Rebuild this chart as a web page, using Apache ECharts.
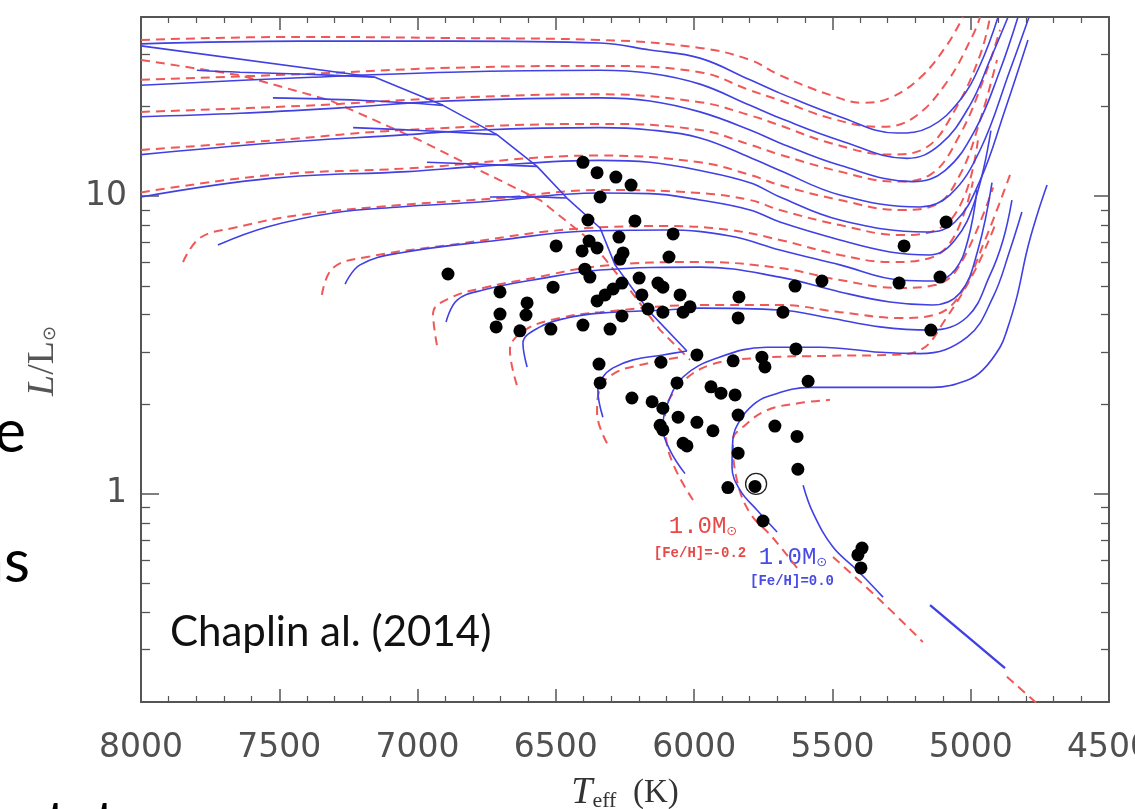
<!DOCTYPE html>
<html><head><meta charset="utf-8">
<script src="https://cdn.jsdelivr.net/npm/echarts@6/dist/echarts.min.js"></script>
<style>html,body{margin:0;padding:0;background:#fff}#c{width:1135px;height:809px}</style>
</head><body><div id="c"></div>
<script>
// ---------- axis ----------
const xTickLabels = [8000, 7500, 7000, 6500, 6000, 5500, 5000, 4500];
const yMajorTicks = [1, 10];
const yMinorTicks = [0.3,0.4,0.5,0.6,0.7,0.8,0.9,2,3,4,5,6,7,8,9,20,30];

// ---------- stars [Teff, L/Lsun] ----------
const stars = [[6402,13.0],[6351,12.0],[6283,11.6],[6228,10.9],[6340,9.94],[6384,8.32],[6214,8.26],[6076,7.47],[6272,7.29],[6499,6.81],[6380,7.07],[6405,6.55],[6351,6.70],[6257,6.45],[6268,6.15],[6091,6.25],[6890,5.48],[6395,5.69],[6377,5.35],[6199,5.31],[6261,5.11],[6131,5.11],[6113,4.95],[6510,4.95],[6702,4.77],[6293,4.88],[5635,4.99],[5838,4.59],[6051,4.66],[6189,4.66],[6351,4.45],[6322,4.66],[6604,4.38],[6702,4.02],[6608,3.99],[6716,3.64],[6630,3.53],[6518,3.58],[6402,3.69],[6304,3.58],[6261,3.96],[6167,4.18],[6113,4.08],[6040,4.08],[6015,4.25],[5841,3.90],[5679,4.08],[5632,3.07],[5990,2.93],[6120,2.77],[6344,2.73],[6340,2.36],[5859,2.80],[5755,2.88],[5744,2.67],[6062,2.36],[6225,2.10],[6152,2.04],[6113,1.94],[5939,2.29],[5903,2.18],[5852,2.15],[5841,1.84],[6058,1.81],[5990,1.74],[5932,1.63],[6123,1.70],[6113,1.64],[6040,1.48],[6026,1.45],[5841,1.37],[5708,1.69],[5628,1.56],[5625,1.21],[5878,1.05],[5780,1.06],[5751,0.811],[5393,0.658],[5408,0.624],[5397,0.564],[5538,5.19],[5259,5.11],[5111,5.35],[5089,8.19],[5241,6.81],[5144,3.55],[5588,2.39]];
const sun = [[5776,1.08]];

// ---------- solar-metallicity tracks (blue, solid) ----------
const B08 = [[4876,0.260],[5147,0.423]];
const B09 = [[5317,0.45],[5411,0.555],[5498,0.663],[5570,0.863],[5606,1.07]];
const B10 = [[5700,0.745],[5773,0.883],[5834,1.03],[5863,1.23],[5860,1.52],[5834,1.77],[5787,1.99],[5737,2.12],[5581,2.28],[5375,2.28],[5136,2.28],[5013,2.41],[4956,2.61],[4894,3.11],[4869,3.55],[4833,4.59],[4796,6.6],[4760,8.65],[4724,10.9]];
const B11 = [[6033,1.17],[6087,1.40],[6113,1.68],[6098,1.99],[6040,2.47],[5917,2.86],[5737,3.11],[5545,3.11],[5328,2.99],[5183,2.96],[5013,3.36],[4919,4.59],[4858,6.6],[4815,8.85]];
const BH1 = [[6330,1.81],[6348,2.23],[6330,2.47],[6293,2.65],[6221,2.82],[6113,2.93],[6026,3.02]];
const B12 = [[6604,2.67],[6619,3.21],[6557,3.64],[6460,3.9],[6340,4.05],[6098,4.15],[5979,4.21],[5690,4.15],[5509,3.9],[5328,3.64],[5147,3.55],[5013,3.93],[4930,5.44],[4883,7.13],[4851,9.71]];
const B13 = [[6897,3.78],[6857,4.48],[6763,4.84],[6583,5.23],[6340,5.65],[5979,5.78],[5690,5.35],[5473,4.77],[5292,4.41],[5140,4.31],[5039,4.73],[4974,6.6],[4923,11.1]];
const B14 = [[7262,5.07],[7208,5.88],[7064,6.45],[6702,7.13],[6387,7.64],[6098,7.7],[5870,7.35],[5690,6.6],[5473,5.88],[5256,5.23],[5129,5.19],[5057,5.65],[5010,7.13],[4977,10.5]];
const B15 = [[7722,6.86],[7544,7.88],[7306,8.78],[7064,9.2],[6774,9.56],[6340,10.25],[6160,10.2],[5979,9.71],[5798,8.99],[5690,8.19],[5473,7.13],[5292,6.5],[5147,6.35],[5057,7.13],[4984,9.71],[4927,16.6]];
const B16 = [[8000,9.94],[7523,11.5],[7038,12.1],[6774,12.6],[6340,13.2],[6160,13.0],[5979,12.2],[5798,11.1],[5690,9.94],[5473,8.32],[5158,7.58],[5057,8.19],[4966,11.3],[4876,19.5],[4793,33.5]];
const B17 = [[8000,13.8],[7523,15.1],[7038,16.1],[6774,16.7],[6340,17.0],[6160,16.7],[5979,15.7],[5798,13.5],[5690,12.2],[5473,10.1],[5183,9.2],[5075,10.1],[4966,14.3],[4858,26.5],[4789,40]];
const B18 = [[8000,18.5],[7642,19.0],[7280,19.8],[6883,20.9],[6340,21.4],[6160,20.9],[5979,19.2],[5798,16.7],[5690,15.1],[5473,12.7],[5209,11.2],[5093,12.2],[4984,16.7],[4894,26.5],[4829,40]];
const B19 = [[8000,23.6],[7425,25.0],[6883,26.1],[6340,26.5],[6160,25.9],[5979,23.8],[5798,20.2],[5690,18.3],[5473,15.4],[5230,13.4],[5111,14.9],[5003,20.2],[4930,28.7],[4865,40]];
const B20 = [[8000,32.5],[7425,33.2],[6883,33.2],[6340,32.7],[6160,31.0],[5979,29.1],[5798,24.6],[5690,22.2],[5473,18.5],[5267,16.3],[5147,17.1],[5039,21.0],[4966,27.6],[4901,40]];
const BDiag = [[8000,32.0],[7154,25.1],[6908,20.2],[6713,16.1],[6568,12.6],[6460,9.86],[6340,7.82],[6286,5.88],[6214,4.77],[6160,4.08],[6026,3.02]];
const BHk2 = [[7798,26.5],[7642,26.1],[7400,25.7],[7154,25.1]];
const BHk3 = [[7523,21.4],[7208,21.0],[6908,20.2]];
const BHk4 = [[7233,17.0],[6973,16.6],[6713,16.1]];
const BHk5 = [[6966,13.0],[6568,12.6]];
const BHk6 = [[6738,9.94],[6600,9.95],[6460,9.86]];

// ---------- [Fe/H] = -0.2 tracks (red, dashed) ----------
const R08 = [[4869,0.243],[4713,0.181]];
const R09 = [[5498,0.614],[5328,0.44],[5173,0.318]];
const R10 = [[5628,0.564],[5718,0.717],[5798,0.863],[5845,1.11],[5860,1.52],[5823,1.68],[5737,1.91],[5617,2.02],[5509,2.07]];
const R11 = [[6004,0.954],[6098,1.46],[6105,1.84],[6051,2.32],[5943,2.71],[5773,2.86],[5509,2.91],[5292,2.93],[5183,3.04],[5093,3.84],[4984,5.65],[4912,8.0]];
const RH1 = [[6315,1.48],[6351,1.87],[6340,2.27],[6286,2.55],[6196,2.71],[6051,2.88]];
const R12 = [[6641,2.32],[6666,3.04],[6612,3.55],[6485,3.9],[6340,4.08],[5979,4.31],[5690,4.31],[5473,4.08],[5256,3.9],[5129,4.0],[5039,4.66],[4948,7.13],[4858,11.8]];
const R13 = [[6930,3.16],[6944,4.05],[6883,4.55],[6763,4.92],[6583,5.31],[6340,5.83],[5979,6.01],[5690,5.74],[5473,5.23],[5256,4.92],[5129,5.03],[5039,5.88],[4919,10.7]];
const R14 = [[7346,4.66],[7306,5.74],[7183,6.25],[6883,6.86],[6387,7.82],[6098,7.94],[5870,7.7],[5690,7.13],[5473,6.35],[5292,6.01],[5147,6.2],[5057,7.41],[4992,11.2]];
const R15 = [[7848,6.01],[7787,7.24],[7667,7.82],[7425,8.65],[7064,9.34],[6702,9.86],[6340,10.5],[5979,10.25],[5798,9.71],[5690,8.99],[5473,8.0],[5256,7.41],[5111,7.82],[5021,10.1],[4974,15.4]];
const R16 = [[8000,10.3],[7523,11.8],[7038,12.4],[6340,13.7],[5979,13.0],[5798,11.8],[5690,10.9],[5473,9.71],[5256,8.99],[5129,9.34],[5039,11.8],[4966,18.0],[4905,28.7]];
const R17 = [[8000,14.3],[7523,15.4],[7038,16.7],[6340,17.5],[5979,16.7],[5798,14.9],[5690,13.8],[5473,12.1],[5274,11.2],[5147,11.8],[5039,16.1],[4948,25.5],[4894,36.2]];
const R18 = [[8000,19.2],[7425,20.1],[6883,21.4],[6340,22.0],[5979,20.7],[5798,18.7],[5690,17.3],[5509,15.1],[5292,13.8],[5165,14.5],[5057,19.5],[4966,29.8],[4930,40]];
const R19 = [[8000,24.6],[7425,25.7],[6883,27.0],[6340,27.4],[5979,26.1],[5798,22.7],[5690,21.0],[5509,18.3],[5328,17.1],[5209,18.3],[5086,24.2],[4992,34.8],[4966,40]];
const R20 = [[8000,33.5],[7425,34.3],[6883,34.0],[6340,33.5],[5979,31.5],[5798,28.7],[5690,25.5],[5509,21.9],[5389,20.6],[5292,21.4],[5183,25.0],[5086,32.2],[5028,40]];
const RDiag = [[8000,28.7],[7642,25.5],[7317,21.0],[6991,15.4],[6774,12.2],[6557,9.71],[6377,7.13],[6232,4.84],[6123,3.55],[6015,2.82]];

// ---------- build ----------
const BLUE = '#4040e4', RED = '#f05858';
const blueSmooth = [B08,B09,B10,B11,BH1,B12,B13,B14,B15,B16,B17,B18,B19,B20,BHk2,BHk3,BHk4,BHk5,BHk6];
const blueSharp = [BDiag];
const redSmooth = [R08,R09,R10,R11,RH1,R12,R13,R14,R15,R16,R17,R18,R19,R20];
const redSharp = [RDiag];

const series = [];
redSmooth.concat(redSharp).forEach(d => series.push({
  type:'line', data:d, smooth: redSharp.includes(d) ? false : 0.4, showSymbol:false, silent:true, z:2,
  lineStyle:{color:RED, width:2, type:[9,6]}
}));
blueSmooth.concat(blueSharp).forEach(d => series.push({
  type:'line', data:d, smooth: blueSharp.includes(d) ? false : 0.4, showSymbol:false, silent:true, z:3,
  lineStyle:{color:BLUE, width:(d===B08)?2.4:1.6}
}));
series.push({type:'scatter', data:stars, symbol:'circle', symbolSize:13, itemStyle:{color:'#000', opacity:1}, z:5, silent:true});
series.push({type:'scatter', data:sun, symbol:'circle', symbolSize:21, itemStyle:{color:'rgba(0,0,0,0)', borderColor:'#222', borderWidth:1.3, opacity:1}, z:6, silent:true});

const AX = '#555';
const labelFont = {fontFamily:'DejaVu Sans', fontSize:33, color:'#505050'};
const xBase = {
  type:'value', min:4500, max:8000, inverse:true, interval:500,
  axisLine:{show:true, lineStyle:{color:AX, width:2}},
  axisTick:{show:true, inside:true, length:13, lineStyle:{color:AX, width:1.5}},
  minorTick:{show:true, splitNumber:5, length:6, lineStyle:{color:AX, width:1.2}},
  splitLine:{show:false}
};
const yBase = {
  type:'log', logBase:10, min:0.2, max:40,
  splitLine:{show:false}, axisLabel:{show:false}
};

const option = {
  animation:false,
  backgroundColor:'#fff',
  grid:{left:141, right:26, top:17, bottom:107, containLabel:false, outerBoundsMode:'none'},
  xAxis:[
    Object.assign({}, xBase, {position:'bottom',
      axisLabel:Object.assign({show:true, margin:30, hideOverlap:false, formatter:v=> xTickLabels.includes(v)? String(v):''}, labelFont),
      name:'{i|T}{s|eff}  {n|(K)}', nameLocation:'middle', nameGap:72,
      nameTextStyle:{fontFamily:'Liberation Serif', fontSize:33, color:'#333',
        rich:{i:{fontFamily:'Liberation Serif', fontStyle:'italic', fontSize:38, color:'#333'},
              s:{fontFamily:'Liberation Serif', fontSize:22, color:'#333', padding:[16,0,0,0]},
              n:{fontFamily:'Liberation Serif', fontSize:33, color:'#333'}}}
    }),
    Object.assign({}, xBase, {position:'top', axisLabel:{show:false}})
  ],
  yAxis:[
    Object.assign({}, yBase, {position:'left',
      axisLine:{show:true, lineStyle:{color:AX, width:2}},
      axisTick:{show:true, inside:true, length:18, customValues:yMajorTicks, lineStyle:{color:AX, width:1.5}},
      axisLabel:Object.assign({show:true, margin:14, customValues:yMajorTicks, formatter:v=>String(Math.round(v))}, labelFont)
    }),
    Object.assign({}, yBase, {position:'left',
      axisLine:{show:false},
      axisTick:{show:true, inside:true, length:9, customValues:yMinorTicks, lineStyle:{color:AX, width:1.3}}
    }),
    Object.assign({}, yBase, {position:'right',
      axisLine:{show:true, lineStyle:{color:AX, width:2}},
      axisTick:{show:true, inside:true, length:15, customValues:yMajorTicks, lineStyle:{color:AX, width:1.5}}
    }),
    Object.assign({}, yBase, {position:'right',
      axisLine:{show:false},
      axisTick:{show:true, inside:true, length:8, customValues:yMinorTicks, lineStyle:{color:AX, width:1.3}}
    })
  ],
  series: series,
  graphic:[
    {type:'text', rotation:Math.PI/2, x:43, y:361, style:{
      text:'{i|L}{n|/L}{s|⊙}', textAlign:'center', textVerticalAlign:'middle',
      rich:{i:{fontFamily:'Liberation Serif', fontStyle:'italic', fontSize:38, fill:'#555'},
            n:{fontFamily:'Liberation Serif', fontSize:38, fill:'#555'},
            s:{fontFamily:'DejaVu Sans', fontSize:18, fill:'#555', padding:[14,0,0,0]}}}},
    {type:'text', x:170, y:632, style:{text:'Chaplin al. (2014)', font:'42px Lato', fill:'#111', textVerticalAlign:'middle'}},
    {type:'text', x:26, y:433, style:{text:'e', font:'60px Lato', fill:'#000', textAlign:'right', textVerticalAlign:'middle'}},
    {type:'text', x:30, y:563, style:{text:'ns', font:'60px Lato', fill:'#000', textAlign:'right', textVerticalAlign:'middle'}},
    {type:'text', x:0, y:797, style:{text:'ent at', font:'bold 44px Lato', fill:'#000', textVerticalAlign:'top'}},
    {type:'text', x:703, y:527, style:{text:'1.0M{s|⊙}', textAlign:'center', textVerticalAlign:'middle', font:'24px Liberation Mono', fill:'#e84848',
      rich:{s:{fontFamily:'DejaVu Sans', fontSize:13, fill:'#e84848', padding:[10,0,0,0]}}}},
    {type:'text', x:700, y:553, style:{text:'[Fe/H]=-0.2', textAlign:'center', textVerticalAlign:'middle', font:'bold 14px Liberation Mono', fill:'#e84848'}},
    {type:'text', x:793, y:558, style:{text:'1.0M{s|⊙}', textAlign:'center', textVerticalAlign:'middle', font:'24px Liberation Mono', fill:'#4a4ae6',
      rich:{s:{fontFamily:'DejaVu Sans', fontSize:13, fill:'#4a4ae6', padding:[10,0,0,0]}}}},
    {type:'text', x:792, y:581, style:{text:'[Fe/H]=0.0', textAlign:'center', textVerticalAlign:'middle', font:'bold 14px Liberation Mono', fill:'#4a4ae6'}}
  ]
};
const chart = echarts.init(document.getElementById('c'));
chart.setOption(option);
</script></body></html>
